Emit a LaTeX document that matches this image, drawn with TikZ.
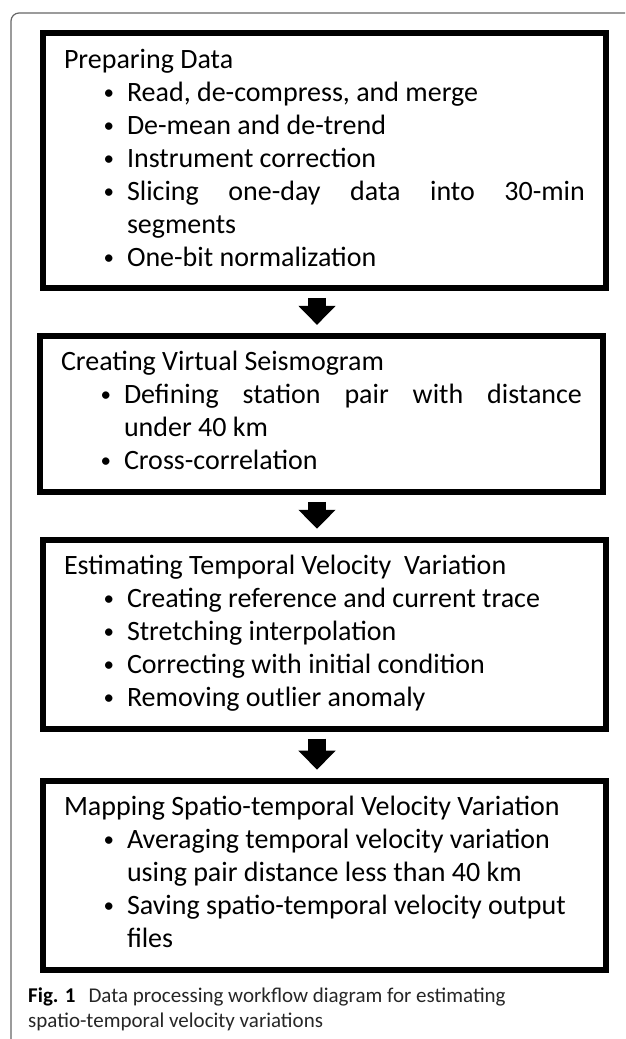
\documentclass[tikz,border=0pt]{standalone}
\usepackage{fontspec}
\setmainfont{Carlito}
\usepackage{enumitem}
\usetikzlibrary{positioning, arrows.meta}
\setlist[itemize]{label={\raisebox{2pt}{\fontsize{21}{21}\selectfont\textbullet}},
    leftmargin=63pt, labelsep=13pt,
    itemsep=0pt, topsep=0pt, parsep=0pt, partopsep=0pt}
\newcommand{\blockend}{\par\vspace{-\baselineskip}\strut}
\tikzstyle{block} = [rectangle, draw, line width=6pt, text width=521pt,
    inner xsep=21pt, inner ysep=12pt, text height=23pt, align=justify,
    font=\fontsize{28}{33}\selectfont, execute at end node=\blockend]
\tikzstyle{down} = [line width=18pt, -{Triangle[width=36pt, length=19pt]},
    shorten <=7pt, shorten >=8pt]

\begin{document}
\begin{tikzpicture}[
x=1pt, y=1pt,
frame/.style = {draw=black!60, line width=1.2pt, rounded corners=8pt},
caption/.style = {inner sep=0pt, align=left, text=black!85,
    font=\fontsize{21}{24.5}\selectfont},
node distance = 42pt
                    ]
\useasboundingbox (0,0) rectangle (625,-1039);
\draw[frame] (11,-1039) -- (11,-13) -- (625,-13);

\node [block, anchor=north west] (prep) at (40,-30) {Preparing Data
  \begin{itemize}
    \item Read, de-compress, and merge
    \item De-mean and de-trend
    \item Instrument correction
    \item Slicing one-day data into 30-min\linebreak segments
    \item One-bit normalization
  \end{itemize}};
\node [block, below=of prep, xshift=-3pt] (seis) {Creating Virtual Seismogram
  \begin{itemize}
    \item Defining station pair with distance\linebreak under 40 km
    \item Cross-correlation
  \end{itemize}};
\node [block, below=of seis, xshift=3pt] (temp) {Estimating Temporal Velocity\ \ Variation
  \begin{itemize}
    \item Creating reference and current trace
    \item Stretching interpolation
    \item Correcting with initial condition
    \item Removing outlier anomaly
  \end{itemize}};
\node [block, below=46pt of temp] (spat) {Mapping Spatio-temporal Velocity Variation
  \begin{itemize}
    \item Averaging temporal velocity variation\newline using pair distance less than 40 km
    \item Saving spatio-temporal velocity output\newline files
  \end{itemize}};

% arrows between the steps
\coordinate (ax) at ([xshift=-7.5pt]prep.south);
\draw[down] (ax) -- (ax |- seis.north);
\draw[down] (ax |- seis.south) -- (ax |- temp.north);
\draw[down] (ax |- temp.south) -- (ax |- spat.north);

\node [caption, anchor=north west] (cap) at (28,-988) {\textbf{\color{black}Fig. 1}\hspace{13pt}Data processing workflow diagram for estimating\\
spatio-temporal velocity variations};
\end{tikzpicture}
\end{document}
